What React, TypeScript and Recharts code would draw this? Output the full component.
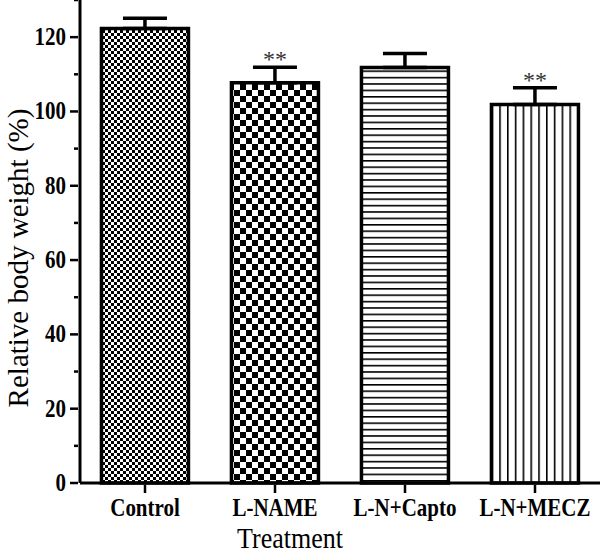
import { Bar, BarChart, ErrorBar, LabelList, XAxis, YAxis } from "recharts";

const groups = ["Control", "L-NAME", "L-N+Capto", "L-N+MECZ"];
const means = [122.3, 107.7, 111.8, 101.9];
const sems = [2.8, 4.2, 3.8, 4.5];
const marks = ["", "**", "", "**"];
const fills = ["url(#fineCheck)", "url(#bigCheck)", "url(#hLines)", "url(#vLines)"];
const yTicks = [0, 10, 20, 30, 40, 50, 60, 70, 80, 90, 100, 110, 120, 130];

const data = groups.map((g, i) => ({
  name: g,
  value: means[i],
  err: [0, sems[i]],
  mark: marks[i],
  fill: fills[i],
}));

const serif = "'Liberation Serif', 'Times New Roman', serif";

function YTick(props: any) {
  const { x, y, payload } = props;
  const major = payload.value % 20 === 0;
  return (
    <g>
      <line x1={x - (major ? 8 : 4)} x2={x} y1={y} y2={y} stroke="#000" strokeWidth={2.5} />
      {major && (
        <text
          transform={`translate(${x - 12},${y + 8}) scale(1,1.15)`}
          textAnchor="end"
          fontFamily={serif}
          fontWeight="bold"
          fontSize={21}
          fill="#000"
        >
          {payload.value}
        </text>
      )}
    </g>
  );
}

function XTick(props: any) {
  const { x, y, payload } = props;
  return (
    <g>
      <line x1={x} x2={x} y1={y} y2={y + 8} stroke="#000" strokeWidth={2.5} />
      <text
        transform={`translate(${x},${y + 31}) scale(1,1.15)`}
        textAnchor="middle"
        fontFamily={serif}
        fontWeight="bold"
        fontSize={21}
        fill="#000"
      >
        {payload.value}
      </text>
    </g>
  );
}

function Stars(props: any) {
  const { x, y, width, value } = props;
  if (!value) return null;
  return (
    <text x={x + width / 2} y={y} dy={-16} textAnchor="middle" fontFamily={serif} fontSize={24} fill="#333">
      {value}
    </text>
  );
}

export default function App() {
  return (
    <div style={{ position: "absolute", left: 0, top: 0, width: 600, height: 553, background: "#fff" }}>
      <svg width={0} height={0} style={{ position: "absolute" }}>
        <defs>
          <pattern id="fineCheck" width={6} height={6} patternUnits="userSpaceOnUse">
            <rect width={6} height={6} fill="#fff" />
            <rect width={3} height={3} fill="#000" />
            <rect x={3} y={3} width={3} height={3} fill="#000" />
          </pattern>
          <pattern id="bigCheck" width={12} height={12} patternUnits="userSpaceOnUse">
            <rect width={12} height={12} fill="#fff" />
            <rect width={6} height={6} fill="#000" />
            <rect x={6} y={6} width={6} height={6} fill="#000" />
          </pattern>
          <pattern id="hLines" width={10} height={6.4} patternUnits="userSpaceOnUse">
            <rect width={10} height={6.4} fill="#fff" />
            <rect y={0} width={10} height={1.6} fill="#000" />
          </pattern>
          <pattern id="vLines" width={7.8} height={10} patternUnits="userSpaceOnUse">
            <rect width={7.8} height={10} fill="#fff" />
            <rect x={0} width={1.6} height={10} fill="#000" />
          </pattern>
        </defs>
      </svg>
      <BarChart
        width={600}
        height={553}
        data={data}
        margin={{ top: 0, right: 0, bottom: 0, left: 0 }}
        barCategoryGap="16.5%"
      >
        <XAxis
          dataKey="name"
          height={70}
          axisLine={{ stroke: "#000", strokeWidth: 3 }}
          tickLine={false}
          tick={<XTick />}
          tickSize={0}
          interval={0}
          label={{
            content: () => (
              <text
                transform="translate(290,548) scale(1,1.1)"
                textAnchor="middle"
                fontFamily={serif}
                fontSize={26}
                fill="#000"
              >
                Treatment
              </text>
            ),
          }}
        />
        <YAxis
          width={80}
          domain={[0, 130]}
          ticks={yTicks}
          interval={0}
          axisLine={{ stroke: "#000", strokeWidth: 3 }}
          tickLine={false}
          tickSize={0}
          tick={<YTick />}
          label={{
            content: () => (
              <text
                transform="translate(28,258) rotate(-90)"
                textAnchor="middle"
                fontFamily={serif}
                fontSize={29}
                fill="#000"
              >
                Relative body weight (%)
              </text>
            ),
          }}
        />
        <Bar dataKey="value" stroke="#000" strokeWidth={3.5} isAnimationActive={false}>
          <ErrorBar dataKey="err" width={22} stroke="#000" strokeWidth={3.5} direction="y" />
          <LabelList dataKey="mark" content={<Stars />} />
        </Bar>
      </BarChart>
    </div>
  );
}
